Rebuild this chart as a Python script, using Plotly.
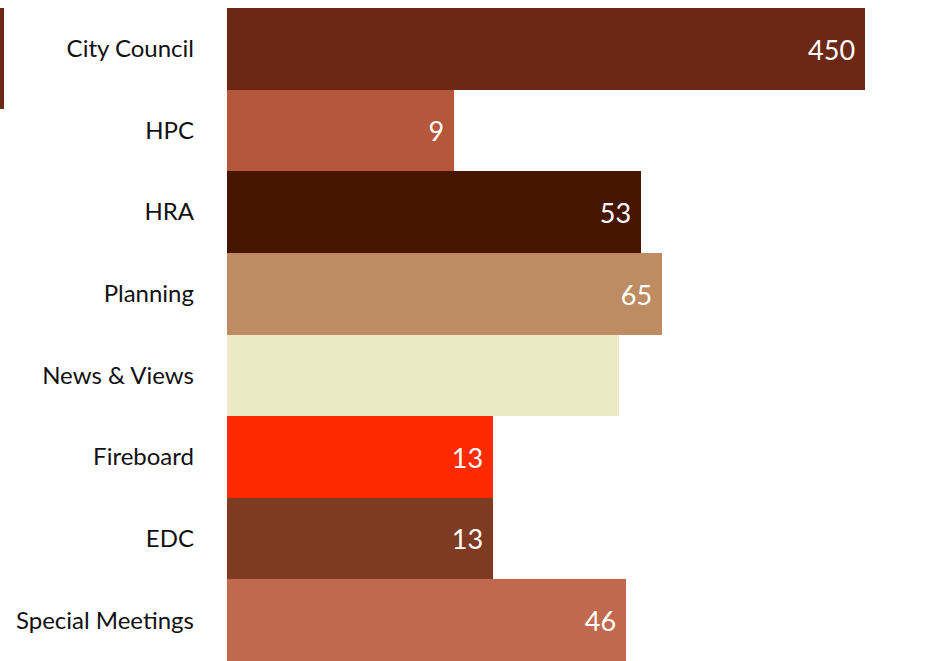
import plotly.graph_objects as go

# Meeting counts per body
categories = ["City Council", "HPC", "HRA", "Planning", "News & Views",
              "Fireboard", "EDC", "Special Meetings"]
counts = [450, 9, 53, 65, 43, 13, 13, 46]
labels = ["450", "9", "53", "65", "", "13", "13", "46"]
colors = ["#6B2815", "#B5573A", "#461600", "#BE8C62", "#ECEAC4",
          "#FF2A00", "#7F3A22", "#C0694E"]

W, H = 940, 661
ML, MR, MT, MB = 227, 0, 8, 0
plot_w = W - ML - MR
px_per_decade = 241.9
x_lo = 0.0145
x_hi = x_lo + plot_w / px_per_decade

fig = go.Figure(
    go.Bar(
        y=categories,
        x=counts,
        orientation="h",
        marker=dict(color=colors, line=dict(width=0)),
        text=labels,
        # non-breaking space keeps a little extra room before the bar end
        texttemplate="%{text}\u00a0",
        textposition="inside",
        insidetextanchor="end",
        textfont=dict(family="Lato, sans-serif", size=27, color="white"),
        cliponaxis=False,
        hoverinfo="skip",
    )
)

fig.update_layout(
    width=W,
    height=H,
    margin=dict(l=ML, r=MR, t=MT, b=MB, pad=0),
    paper_bgcolor="white",
    plot_bgcolor="white",
    bargap=0,
    showlegend=False,
    uniformtext=dict(mode="show", minsize=27),
    xaxis=dict(
        type="log",
        range=[x_lo, x_hi],
        visible=False,
        showgrid=False,
        zeroline=False,
        fixedrange=True,
    ),
    yaxis=dict(
        categoryorder="array",
        categoryarray=categories,
        autorange="reversed",
        showgrid=False,
        zeroline=False,
        showline=False,
        ticks="",
        ticklabelstandoff=32,
        tickfont=dict(family="Lato, sans-serif", size=24, color="#111111"),
        fixedrange=True,
    ),
    shapes=[
        # thin accent rule at the far left, beside the top row
        dict(
            type="rect",
            xref="paper", yref="paper",
            x0=-ML / plot_w, x1=(4 - ML) / plot_w,
            y0=1 - 101 / (H - MT - MB), y1=1,
            fillcolor="#6B2815", line=dict(width=0),
        )
    ],
)

fig.write_html("out.html")
